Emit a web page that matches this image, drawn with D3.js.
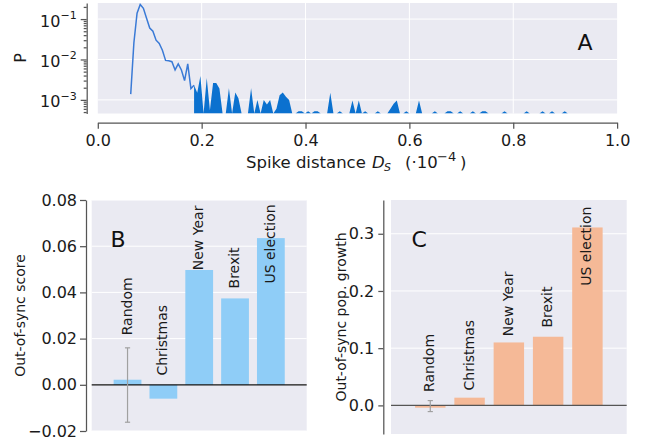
<!DOCTYPE html>
<html lang="en">
<head>
<meta charset="UTF-8">
<title>Out-of-sync events</title>
<style>
  body { margin: 0; background: #fff; }
  svg { font-family: "DejaVu Sans", sans-serif; }
</style>
</head>
<body>
<svg id="chart" width="650" height="444"></svg>
<script src="https://cdn.jsdelivr.net/npm/d3@7"></script>
<script>
// panel A: histogram of spike distances (bins start at distStart, width distStep)
let distStart = 0.0634
let distStep = 0.0061
let distP = [
  0.00139, 0.026, 0.14, 0.23, 0.185, 0.105, 0.06, 0.05, 0.03, 0.025,
  0.017, 0.0095, 0.0093, 0.0088, 0.0055, 0.0078, 0.0055, 0.003, 0.0078, 0.0019,
  0.0023, 0.0015, 0.0039, 0, 0.0035, 0.00055, 0.0026, 0.0026, 0.0019, 0,
  0, 0.00195, 0, 0.00153, 0.0011, 0, 0, 0, 0.00195, 0,
  0.001, 0, 0.001, 0.00077, 0.001, 0, 0.0006, 0.0013, 0.00153, 0.0012,
  0.001, 0, 0, 0.00052, 0.00052, 0, 0.00052, 0, 0.00052, 0.00052,
  0, 0, 0, 0.0015, 0, 0, 0.00052, 0, 0, 0,
  0.00096, 0, 0.00096, 0, 0.00052, 0, 0, 0, 0.00052, 0,
  0, 0, 0.0006, 0.0008, 0.00096, 0, 0, 0.00052, 0, 0,
  0, 0.00096, 0, 0, 0, 0, 0.00052, 0, 0, 0,
  0.00052, 0.00052, 0, 0, 0.00052, 0, 0, 0, 0.00052, 0,
  0, 0.00052, 0.00052, 0, 0, 0, 0, 0, 0.00052, 0,
  0, 0, 0, 0, 0, 0.00052, 0, 0, 0, 0,
  0.00052, 0, 0, 0.00052, 0, 0, 0, 0.00052, 0
]
let sparseFrom = 0.185   // past this point the histogram is drawn filled
let distTicks = [0, 0.2, 0.4, 0.6, 0.8, 1.0]
let distDecades = [1e-3, 1e-2, 1e-1]
let distExp = ["\u22123", "\u22122", "\u22121"]

// panels B and C
let events = ["Random", "Christmas", "New Year", "Brexit", "US election"]
let scoreValues = [0.0022, -0.006, 0.0497, 0.0374, 0.0635]
let scoreErrLow = [-0.0162, null, null, null, null]
let scoreErrHigh = [0.016, null, null, null, null]
let scoreLabelAt = [0.0214, 0.004, 0.0496, 0.0417, 0.0438]
let scoreTicks = [-0.02, 0, 0.02, 0.04, 0.06, 0.08]

let growthValues = [-0.004, 0.0135, 0.11, 0.12, 0.311]
let growthErrLow = [-0.0108, null, null, null, null]
let growthErrHigh = [0.0084, null, null, null, null]
let growthLabelAt = [0.0235, 0.026, 0.121, 0.136, 0.209]
let growthTicks = [0, 0.1, 0.2, 0.3]

let svg = d3.select("#chart")
let textColor = "#1a1a1a"
let spineColor = "#555"
let bgColor = "#eaeaf2"

function styleAxis(g, size){
  g.selectAll("path.domain").attr("stroke", spineColor).attr("stroke-width", 1.25)
  g.selectAll(".tick line").attr("stroke", spineColor).attr("stroke-width", 1.25)
  g.selectAll(".tick text").attr("fill", textColor).style("font-size", size + "px")
  g.attr("font-family", null)
}

// ---------- panel A ----------
let aL = 97.8, aR = 617.1, aT = 3, aB = 113.5
let xA = d3.scaleLinear().domain([0, 1]).range([aL, aR])
let yA = d3.scaleLog().domain([4.6e-4, 0.25]).range([aB, aT])

let dist = distP.map((p, i) => ({x: distStart + i * distStep, p: p}))

svg.append("rect").attr("x", aL).attr("y", aT).attr("width", aR - aL).attr("height", aB - aT).attr("fill", bgColor)
svg.append("defs").append("clipPath").attr("id", "clipA")
   .append("rect").attr("x", aL).attr("y", aT).attr("width", aR - aL).attr("height", aB - aT)

let gridA = svg.append("g").attr("stroke", "#fff").attr("stroke-width", 1)
gridA.selectAll("line.v").data(distTicks.slice(1, -1)).enter().append("line")
     .attr("x1", d => xA(d)).attr("x2", d => xA(d)).attr("y1", aT).attr("y2", aB)
gridA.selectAll("line.h").data(distDecades).enter().append("line")
     .attr("x1", aL).attr("x2", aR).attr("y1", d => yA(d)).attr("y2", d => yA(d))

let plotA = svg.append("g").attr("clip-path", "url(#clipA)")
let yOf = d => d.p > 0 ? yA(d.p) : aB

plotA.append("path")
     .datum(dist.filter(d => d.x >= sparseFrom))
     .attr("fill", "#0b71cf")
     .attr("d", d3.area().x(d => xA(d.x)).y0(aB).y1(yOf))

plotA.append("path")
     .datum(dist.filter(d => d.x <= sparseFrom + distStep / 2))
     .attr("fill", "none")
     .attr("stroke", "#3a7ad6")
     .attr("stroke-width", 1.5)
     .attr("d", d3.line().x(d => xA(d.x)).y(yOf))

let xAxisA = svg.append("g").attr("transform", "translate(0,122.7)")
  .call(d3.axisBottom(xA).tickValues(distTicks).tickSize(6).tickSizeOuter(0).tickPadding(6).tickFormat(d3.format(".1f")))
styleAxis(xAxisA, 16)

let yAxisA = svg.append("g").attr("transform", "translate(86.7,0)")
  .call(d3.axisLeft(yA).tickValues(distDecades).tickSize(6).tickSizeOuter(0).tickFormat(""))
styleAxis(yAxisA, 16)

let minors = []
for (let k = -4; k <= -1; k++) for (let m = 2; m <= 9; m++) {
  let v = m * Math.pow(10, k)
  if (v >= 4.6e-4 && v <= 0.25) minors.push(v)
}
let minorA = svg.append("g").attr("transform", "translate(86.7,0)")
  .call(d3.axisLeft(yA).tickValues(minors).tickSize(3).tickFormat(""))
minorA.select("path.domain").remove()
styleAxis(minorA, 16)

let decLabels = svg.append("g").attr("fill", textColor)
decLabels.selectAll("text").data(distDecades).enter().append("text")
  .attr("x", 76.7).attr("y", d => yA(d) + 7.5)
  .attr("text-anchor", "end")
  .style("font-size", "16px")
  .each(function(d, i){
    let t = d3.select(this)
    t.append("tspan").text("10")
    t.append("tspan").attr("dy", -7.5).style("font-size", "11px").text(distExp[i])
  })

svg.append("text").attr("transform", "translate(26,58) rotate(-90)")
   .attr("text-anchor", "middle").attr("fill", textColor).style("font-size", "16px").text("P")

// x title, pieces placed like the mathtext layout
let titleA = svg.append("text").attr("y", 167.5).attr("fill", textColor).style("font-size", "16.5px")
titleA.append("tspan").attr("x", 246).text("Spike distance")
titleA.append("tspan").attr("x", 372).style("font-style", "italic").text("D")
titleA.append("tspan").attr("x", 384).attr("dy", 3.5).style("font-size", "11px").style("font-style", "italic").text("S")
titleA.append("tspan").attr("x", 405).attr("dy", -3.5).text("(\u00b710")
titleA.append("tspan").attr("x", 437).attr("dy", -6.5).style("font-size", "13px").text("\u22124")
titleA.append("tspan").attr("x", 460).attr("dy", 6.5).text(")")

svg.append("text").attr("x", 585).attr("y", 42).attr("text-anchor", "middle")
   .attr("dominant-baseline", "central").attr("fill", "#111").style("font-size", "22px").text("A")

// ---------- panels B and C ----------
function barPanel(opt){
  let x = d3.scaleBand().domain(events).range([opt.left, opt.right]).paddingInner(0.225).paddingOuter(0.6125)
  let y = d3.scaleLinear().domain(opt.domain).range([opt.bottom, opt.top])
  let g = svg.append("g")

  g.append("rect").attr("x", opt.left).attr("y", opt.top)
   .attr("width", opt.right - opt.left).attr("height", opt.bottom - opt.top).attr("fill", bgColor)

  g.append("g").selectAll("line").data(opt.ticks).enter().append("line")
   .attr("x1", opt.left).attr("x2", opt.right).attr("y1", d => y(d)).attr("y2", d => y(d))
   .attr("stroke", "#fff").attr("stroke-width", 1)

  g.append("g").selectAll("rect").data(opt.values).enter().append("rect")
   .attr("x", (d, i) => x(events[i]))
   .attr("width", x.bandwidth())
   .attr("y", d => y(Math.max(0, d)))
   .attr("height", d => Math.abs(y(d) - y(0)))
   .attr("fill", opt.color)

  g.append("line").attr("x1", opt.left).attr("x2", opt.right)
   .attr("y1", y(0)).attr("y2", y(0)).attr("stroke", opt.zeroColor).attr("stroke-width", 1.2)

  let errs = events.map((e, i) => ({e: e, lo: opt.errLow[i], hi: opt.errHigh[i]})).filter(d => d.lo != null)
  let eg = g.append("g").attr("stroke", "#a0a0a0").attr("stroke-width", 1.2)
  errs.forEach(d => {
    let cx = x(d.e) + x.bandwidth() / 2
    eg.append("line").attr("x1", cx).attr("x2", cx).attr("y1", y(d.lo)).attr("y2", y(d.hi))
    eg.append("line").attr("x1", cx - 2.6).attr("x2", cx + 2.6).attr("y1", y(d.lo)).attr("y2", y(d.lo))
    eg.append("line").attr("x1", cx - 2.6).attr("x2", cx + 2.6).attr("y1", y(d.hi)).attr("y2", y(d.hi))
  })

  g.append("g").selectAll("text").data(events).enter().append("text")
   .attr("transform", (d, i) => "translate(" + (x(d) + x.bandwidth() / 2 - 1) + "," + y(opt.labelAt[i]) + ") rotate(-90)")
   .attr("dominant-baseline", "central")
   .attr("fill", textColor).style("font-size", "14px")
   .text(d => d)

  let ax = g.append("g").attr("transform", "translate(" + opt.spine + ",0)")
   .call(d3.axisLeft(y).tickValues(opt.ticks).tickSize(opt.tickSize).tickSizeOuter(0).tickPadding(opt.pad).tickFormat(d3.format(opt.fmt)))
  styleAxis(ax, 16)

  g.append("text").attr("transform", "translate(" + opt.labelX + "," + (opt.top + opt.bottom) / 2 + ") rotate(-90)")
   .attr("text-anchor", "middle").attr("dominant-baseline", "central")
   .attr("fill", textColor).style("font-size", "14px").text(opt.ylabel)

  g.append("text").attr("x", opt.letterX).attr("y", 239).attr("text-anchor", "middle")
   .attr("dominant-baseline", "central").attr("fill", "#111").style("font-size", "22px").text(opt.letter)
}

barPanel({
  left: 91.7, right: 306.7, top: 200, bottom: 431, spine: 86,
  domain: [-0.02, 0.08], ticks: scoreTicks, fmt: ".2f", tickSize: 6, pad: 3,
  values: scoreValues, errLow: scoreErrLow, errHigh: scoreErrHigh, labelAt: scoreLabelAt,
  color: "#8fcdf7", zeroColor: "#111", ylabel: "Out-of-sync score", labelX: 19.5,
  letter: "B", letterX: 118
})

barPanel({
  left: 391, right: 626.7, top: 200, bottom: 434, spine: 383.3,
  domain: [-0.05, 0.359], ticks: growthTicks, fmt: ".1f", tickSize: 5, pad: 4,
  values: growthValues, errLow: growthErrLow, errHigh: growthErrHigh, labelAt: growthLabelAt,
  color: "#f5b997", zeroColor: "#555", ylabel: "Out-of-sync pop. growth", labelX: 340.8,
  letter: "C", letterX: 419.3
})
</script>
</body>
</html>
